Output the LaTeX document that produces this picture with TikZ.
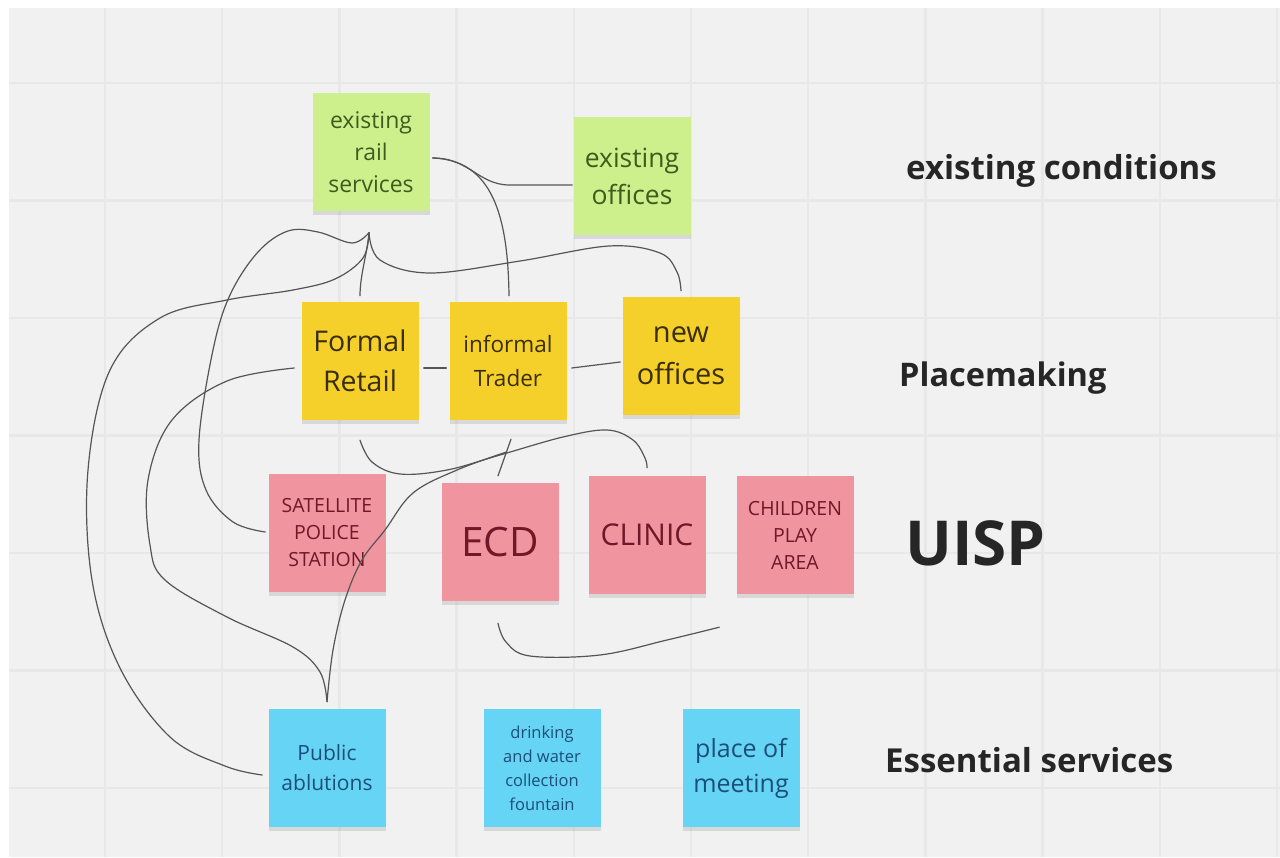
\documentclass[tikz,border=0pt]{standalone}
\usepackage{fontspec}
\setmainfont{Open Sans}
\usetikzlibrary{shadows,calc}

\definecolor{board}{RGB}{241,241,241}
\definecolor{gridline}{RGB}{232,232,232}
\definecolor{wire}{RGB}{85,85,85}
\definecolor{lime}{RGB}{206,240,140}
\definecolor{limetext}{RGB}{62,92,30}
\definecolor{sun}{RGB}{245,208,42}
\definecolor{suntext}{RGB}{58,46,8}
\definecolor{rose}{RGB}{240,148,160}
\definecolor{rosetext}{RGB}{110,24,40}
\definecolor{sky}{RGB}{102,212,245}
\definecolor{skytext}{RGB}{28,78,122}
\definecolor{heading}{RGB}{38,38,38}

\tikzset{
  note/.style={rectangle, minimum width=117pt, minimum height=118pt, inner sep=1pt,
    align=center, drop shadow={shadow xshift=0pt, shadow yshift=-4pt, opacity=0.22}},
  limenote/.style={note, fill=lime, text=limetext},
  sunnote/.style={note, fill=sun, text=suntext},
  rosenote/.style={note, fill=rose, text=rosetext},
  skynote/.style={note, fill=sky, text=skytext},
  rowlabel/.style={anchor=west, text=heading, inner sep=0pt},
  conn/.style={draw=wire, line width=1.2pt, line cap=round, line join=round},
}

\begin{document}
\begin{tikzpicture}[x=1pt, y=-1pt]
% canvas and board grid
\useasboundingbox (0,0) rectangle (1280,857);
\fill[white] (0,0) rectangle (1280,857);
\fill[board] (9,8) rectangle (1280,857);
\foreach \gx in {0,...,10}
  \draw[gridline, line width=2.5pt] ({105+117.2*\gx},8) -- ({105+117.2*\gx},857);
\foreach \gy in {0,...,6}
  \draw[gridline, line width=2.5pt] (9,{83+117.5*\gy}) -- (1280,{83+117.5*\gy});

% row 1: existing conditions
\node[limenote, font=\fontsize{23}{32}\selectfont] (rail) at (371,152) {existing\\rail\\services};
\node[limenote, font=\fontsize{26.5}{37}\selectfont] (offices) at (632,176) {existing\\offices};

% row 2: placemaking
\node[sunnote, font=\fontsize{28.5}{40}\selectfont] (retail) at (360,361) {Formal\\Retail};
\node[sunnote, font=\fontsize{22.5}{34}\selectfont] (trader) at (508,361) {informal\\Trader};
\node[sunnote, font=\fontsize{29}{42}\selectfont] (newoff) at (681,356) {new\\offices};

% row 3: UISP
\node[rosenote, font=\fontsize{19.5}{27}\selectfont] (police) at (327,533) {SATELLITE\\POLICE\\STATION};
\node[rosenote, font=\fontsize{40.5}{44}\selectfont] (ecd) at (500,542) {ECD};
\node[rosenote, font=\fontsize{30}{36}\selectfont] (clinic) at (647,535) {CLINIC};
\node[rosenote, font=\fontsize{19.5}{27}\selectfont] (play) at (795,535) {CHILDREN\\PLAY\\AREA};

% row 4: essential services
\node[skynote, font=\fontsize{21}{30}\selectfont] (ablu) at (327,768) {Public\\ablutions};
\node[skynote, font=\fontsize{16.5}{24}\selectfont] (fount) at (542,768) {drinking\\and water\\collection\\fountain};
\node[skynote, font=\fontsize{25}{35}\selectfont] (meet) at (741,768) {place of\\meeting};

% row headings
\node[rowlabel, font=\fontsize{33}{36}\selectfont\bfseries] (lab1) at (906,171) {existing conditions};
\node[rowlabel, font=\fontsize{32.5}{36}\selectfont\bfseries] (lab2) at (899,378) {Placemaking};
\node[rowlabel, font=\fontsize{62}{66}\selectfont\bfseries] (lab3) at (905,543) {UISP};
\node[rowlabel, font=\fontsize{33}{36}\selectfont\bfseries] (lab4) at (885,760) {Essential services};

% connector end points, set just off the notes
\coordinate (railright)   at ($(rail.east)+(3,6)$);
\coordinate (railfoot)    at ($(rail.south)+(-2,21.5)$);
\coordinate (officesin)   at ($(offices.west)+(-1,9)$);
\coordinate (retailhead)  at ($(retail.north)+(0,-6)$);
\coordinate (traderhead)  at ($(trader.north)+(1,-6)$);
\coordinate (newofftop)   at ($(newoff.north)+(0,-6)$);
\coordinate (retailleft)  at ($(retail.west)+(-7,7)$);
\coordinate (retailright) at ($(retail.east)+(5,7)$);
\coordinate (retailfoot)  at ($(retail.south)+(0,20)$);
\coordinate (traderleft)  at ($(trader.west)+(-3,7)$);
\coordinate (traderright) at ($(trader.east)+(5,7)$);
\coordinate (traderfoot)  at ($(trader.south)+(3,19)$);
\coordinate (newoffleft)  at ($(newoff.west)+(-2,6)$);
\coordinate (policein)    at ($(police.west)+(-3,-1)$);
\coordinate (ecdhead)     at ($(ecd.north)+(-2,-7)$);
\coordinate (ecdfoot)     at ($(ecd.south)+(-2,22)$);
\coordinate (clinictop)   at ($(clinic.north)+(0,-8)$);
\coordinate (playfoot)    at ($(play.south west)+(-17,33)$);
\coordinate (ablutop)     at ($(ablu.north)+(0,-7)$);
\coordinate (abluin)      at ($(ablu.west)+(-6,7)$);
\coordinate (merge)       at ($(traderfoot)!0.35!(ecdhead)$);

% links from the rail services
\draw[conn] (railright) .. controls (470,158) and (478,185) .. (510,185) -- (officesin);
\draw[conn] (railright) .. controls (492,160) and (508,215) .. (traderhead);
\draw[conn] (railfoot) .. controls (367,255) and (360,275) .. (retailhead);
\draw[conn] plot[smooth, tension=0.6] coordinates {(railfoot) (352,243) (318,232) (288,231) (258,252) (230,295) (213,350) (199,440) (206,490) (233,522) (policein)};
\draw[conn] plot[smooth, tension=0.6] coordinates {(railfoot) (363,258) (335,279) (293,290) (227,300) (160,318) (110,370) (88,470) (92,580) (120,668) (170,737) (225,766) (abluin)};
\draw[conn] plot[smooth, tension=0.6] coordinates {(railfoot) (380,260) (430,273) (520,261) (609,246) (660,253) (677,272) (newofftop)};

% links along the placemaking row
\draw[conn] (retailright) -- (traderleft);
\draw[conn] (traderright) -- (newoffleft);

% links down to services
\draw[conn] plot[smooth, tension=0.6] coordinates {(retailfoot) (372,462) (400,474) (447,470) (500,455) (563,437) (607,430) (633,440) (645,458) (clinictop)};
\draw[conn] plot[smooth, tension=0.6] coordinates {(retailleft) (227,381) (172,420) (148,480) (150,545) (165,580) (227,617) (293,647) (320,672) (ablutop)};
\draw[conn] plot[smooth, tension=0.6] coordinates {(ablutop) (333,650) (345,600) (362,560) (385,530) (413,493) (457,470) (merge)};
\draw[conn] (traderfoot) -- (ecdhead);
\draw[conn] plot[smooth, tension=0.6] coordinates {(ecdfoot) (506,642) (530,656) (600,655) (667,640) (playfoot)};
\end{tikzpicture}
\end{document}
